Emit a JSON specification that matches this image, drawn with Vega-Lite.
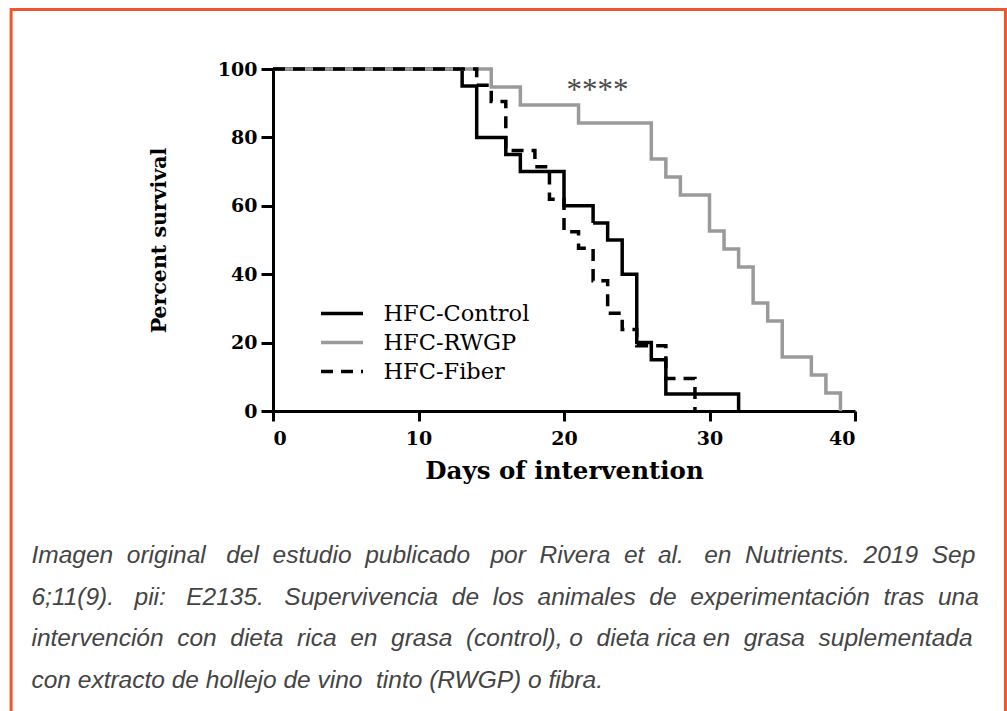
{
  "$schema": "https://vega.github.io/schema/vega-lite/v6.json",
  "width": 582,
  "height": 342,
  "autosize": "none",
  "padding": {"left": 273, "top": 69, "right": 152, "bottom": 300},
  "background": "white",
  "config": {
    "view": {"stroke": null},
    "font": "DejaVu Serif"
  },
  "layer": [
    {
      "data": {"values": [{"frame": "border"}]},
      "mark": {"type": "rect", "filled": false, "stroke": "#f0552f", "strokeWidth": 3, "clip": false},
      "encoding": {
        "x": {"datum": -18.0, "type": "quantitative"},
        "x2": {"datum": 50.34},
        "y": {"datum": 117.4, "type": "quantitative"},
        "y2": {"datum": -89.5}
      }
    },
    {
      "data": {
        "values": [
          {"group": "HFC-Control", "day": 0, "survival": 100},
          {"group": "HFC-Control", "day": 13, "survival": 95},
          {"group": "HFC-Control", "day": 14, "survival": 80},
          {"group": "HFC-Control", "day": 16, "survival": 75},
          {"group": "HFC-Control", "day": 17, "survival": 70},
          {"group": "HFC-Control", "day": 20, "survival": 60},
          {"group": "HFC-Control", "day": 22, "survival": 55},
          {"group": "HFC-Control", "day": 23, "survival": 50},
          {"group": "HFC-Control", "day": 24, "survival": 40},
          {"group": "HFC-Control", "day": 25, "survival": 20},
          {"group": "HFC-Control", "day": 26, "survival": 15},
          {"group": "HFC-Control", "day": 27, "survival": 5},
          {"group": "HFC-Control", "day": 32, "survival": 0},
          {"group": "HFC-RWGP", "day": 0, "survival": 100},
          {"group": "HFC-RWGP", "day": 15, "survival": 94.74},
          {"group": "HFC-RWGP", "day": 17, "survival": 89.47},
          {"group": "HFC-RWGP", "day": 21, "survival": 84.21},
          {"group": "HFC-RWGP", "day": 26, "survival": 73.68},
          {"group": "HFC-RWGP", "day": 27, "survival": 68.42},
          {"group": "HFC-RWGP", "day": 28, "survival": 63.16},
          {"group": "HFC-RWGP", "day": 30, "survival": 52.63},
          {"group": "HFC-RWGP", "day": 31, "survival": 47.37},
          {"group": "HFC-RWGP", "day": 32, "survival": 42.11},
          {"group": "HFC-RWGP", "day": 33, "survival": 31.58},
          {"group": "HFC-RWGP", "day": 34, "survival": 26.32},
          {"group": "HFC-RWGP", "day": 35, "survival": 15.79},
          {"group": "HFC-RWGP", "day": 37, "survival": 10.53},
          {"group": "HFC-RWGP", "day": 38, "survival": 5.26},
          {"group": "HFC-RWGP", "day": 39, "survival": 0},
          {"group": "HFC-Fiber", "day": 0, "survival": 100},
          {"group": "HFC-Fiber", "day": 14, "survival": 95.24},
          {"group": "HFC-Fiber", "day": 15, "survival": 90.48},
          {"group": "HFC-Fiber", "day": 16, "survival": 76.19},
          {"group": "HFC-Fiber", "day": 18, "survival": 71.43},
          {"group": "HFC-Fiber", "day": 19, "survival": 61.9},
          {"group": "HFC-Fiber", "day": 20, "survival": 52.38},
          {"group": "HFC-Fiber", "day": 21, "survival": 47.62},
          {"group": "HFC-Fiber", "day": 22, "survival": 38.1},
          {"group": "HFC-Fiber", "day": 23, "survival": 28.57},
          {"group": "HFC-Fiber", "day": 24, "survival": 23.81},
          {"group": "HFC-Fiber", "day": 25, "survival": 19.05},
          {"group": "HFC-Fiber", "day": 27, "survival": 9.52},
          {"group": "HFC-Fiber", "day": 29, "survival": 0}
        ]
      },
      "mark": {"type": "line", "interpolate": "step-after", "strokeWidth": 3.5, "clip": false},
      "encoding": {
        "x": {
          "field": "day", "type": "quantitative",
          "scale": {"domain": [0, 40], "nice": false, "zero": false},
          "axis": {
            "values": [0, 10, 20, 30, 40],
            "title": "Days of intervention",
            "grid": false,
            "domainColor": "black", "domainWidth": 3,
            "tickColor": "black", "tickWidth": 3, "tickSize": 10,
            "labelFont": "DejaVu Serif", "labelFontWeight": "bold", "labelFontSize": 19, "labelColor": "black",
            "labelPadding": 8,
            "titleFont": "DejaVu Serif", "titleFontWeight": "bold", "titleFontSize": 24.5, "titleColor": "black",
            "titlePadding": 11
          }
        },
        "y": {
          "field": "survival", "type": "quantitative",
          "scale": {"domain": [0, 100], "nice": false},
          "axis": {
            "values": [0, 20, 40, 60, 80, 100],
            "title": "Percent survival",
            "grid": false,
            "domainColor": "black", "domainWidth": 3,
            "tickColor": "black", "tickWidth": 3, "tickSize": 12,
            "labelFont": "DejaVu Serif", "labelFontWeight": "bold", "labelFontSize": 19, "labelColor": "black",
            "labelPadding": 4,
            "titleFont": "DejaVu Serif", "titleFontWeight": "bold", "titleFontSize": 20.5, "titleColor": "black",
            "titlePadding": 48
          }
        },
        "color": {
          "field": "group", "type": "nominal",
          "scale": {"domain": ["HFC-Control", "HFC-RWGP", "HFC-Fiber"], "range": ["#000000", "#9a9a9a", "#000000"]},
          "legend": {
            "title": null,
            "orient": "none",
            "legendX": 56.5,
            "legendY": 232,
            "padding": 0,
            "symbolType": "M-2,0H2",
            "symbolSize": 441,
            "symbolStrokeWidth": 3.5,
            "labelFont": "DejaVu Serif",
            "labelFontSize": 22.5,
            "labelColor": "black",
            "labelOffset": 29,
            "rowPadding": 5
          }
        },
        "strokeDash": {
          "field": "group", "type": "nominal",
          "scale": {"domain": ["HFC-Control", "HFC-RWGP", "HFC-Fiber"], "range": [[1, 0], [1, 0], [12, 8]]},
          "legend": {
            "title": null,
            "orient": "none",
            "legendX": 56.5,
            "legendY": 232,
            "padding": 0,
            "symbolType": "M-2,0H2",
            "symbolSize": 441,
            "symbolStrokeWidth": 3.5,
            "labelFont": "DejaVu Serif",
            "labelFontSize": 22.5,
            "labelColor": "black",
            "labelOffset": 29,
            "rowPadding": 5
          }
        }
      }
    },
    {
      "data": {"values": [{"label": "****"}]},
      "mark": {"type": "text", "font": "Liberation Serif", "fontSize": 31, "color": "#4a4a4a", "baseline": "middle", "align": "center", "clip": false},
      "encoding": {
        "x": {"datum": 22.3, "type": "quantitative"},
        "y": {"datum": 93.5, "type": "quantitative"},
        "text": {"field": "label"}
      }
    },
    {
      "data": {"values": [{"caption": [
        "Imagen\u00a0 original\u00a0\u00a0 del\u00a0 estudio\u00a0 publicado\u00a0\u00a0 por\u00a0 Rivera\u00a0 et\u00a0 al.\u00a0\u00a0 en\u00a0 Nutrients.\u00a0 2019\u00a0 Sep",
        "6;11(9).\u00a0\u00a0 pii:\u00a0\u00a0 E2135.\u00a0\u00a0 Supervivencia\u00a0 de\u00a0 los\u00a0 animales\u00a0 de\u00a0 experimentación\u00a0 tras\u00a0 una",
        "intervención\u00a0 con\u00a0 dieta\u00a0 rica\u00a0 en\u00a0 grasa\u00a0 (control), o\u00a0 dieta rica en\u00a0 grasa\u00a0 suplementada",
        "con extracto de hollejo de vino\u00a0 tinto (RWGP) o fibra."
      ]}]},
      "mark": {"type": "text", "font": "Liberation Sans", "fontStyle": "italic", "fontSize": 24.5, "color": "#444444", "baseline": "alphabetic", "align": "left", "lineHeight": 41.7, "clip": false},
      "encoding": {
        "x": {"datum": -16.6, "type": "quantitative"},
        "y": {"datum": -44.44, "type": "quantitative"},
        "text": {"field": "caption"}
      }
    }
  ]
}
